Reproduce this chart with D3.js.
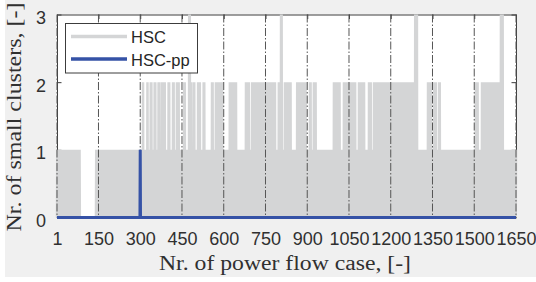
<!DOCTYPE html>
<html>
<head>
<meta charset="utf-8">
<script src="https://cdn.jsdelivr.net/npm/d3@7"></script>
<style>
  html, body { margin: 0; padding: 0; background: #ffffff; }
  svg { display: block; }
</style>
</head>
<body>
<div id="chart"></div>
<script>
// Data.
// HSC: one digit per power flow case, one string per 150 cases
// (cases 1-150, 151-300, ...), written in groups of ten.

const hscSegments = [
  '0101010101 0101010101 0000000101 0101010101 0101010101 0101010101 0101010101 0101010101 0100000000 0000000000 0000000000 0000000000 0000000000 0000000000 0101010101',
  '0101010101 0101010101 0101010101 0101010101 0101010101 0101010101 0101010101 0101010101 0101010101 0101010101 0101010101 0101010101 0101010101 0101010101 0101010101',
  '0101010102 0101010101 0101020101 0101010202 0101010101 0202010101 0101020201 0101010202 0202020201 0101010101 0202010101 0101010202 0101010101 0202020201 0101010101',
  '0101010202 0101010101 0101030302 0201010101 0202010101 0101010202 0202010101 0101010202 0101010101 0101010101 0101010202 0101010101 0202020202 0202020202 0202010101',
  '0101010101 0101010101 0202020202 0202020202 0202010101 0101010101 0101010101 0101010102 0202020202 0101010101 0202020202 0202020202 0202020202 0202020202 0202020202',
  '0202020202 0202020202 0202020202 0202010101 0101010202 0202030301 0101010102 0202020202 0202020202 0101010101 0101010101 0102020202 0202020202 0202020202 0202010101',
  '0101010102 0201010101 0102020202 0101010101 0101010101 0101010101 0101010101 0101010101 0101010101 0101020202 0202020202 0202020101 0101010101 0202020202 0202020202',
  '0202020202 0202020202 0201010101 0101020202 0202020202 0202010101 0101010101 0202020201 0101010102 0202020202 0202020202 0202020202 0202020202 0202020202 0202020202',
  '0202020202 0202020202 0202020202 0202020202 0202020202 0202020202 0202020202 0202020202 0202020303 0303010101 0101010101 0101010101 0101010101 0102020202 0202010101',
  '0101020202 0201010101 0102020101 0101010101 0101010101 0101010101 0101010101 0101010101 0101010101 0101010101 0101010101 0101010101 0101010101 0101010101 0101010101',
  '0101020202 0201010101 0101010202 0202020202 0202020202 0202020202 0202020202 0202020202 0202020202 0202030303 0301010101 0101010101 0101010101 0101010101 0101010101'
];

// HSC-pp: zero everywhere except one case
const hscPpPoints = [[1, 0], [299, 0], [300, 1], [301, 0], [1650, 0]];

const xTicks = [1, 150, 300, 450, 600, 750, 900, 1050, 1200, 1350, 1500, 1650];
const yTicks = [0, 1, 2, 3];
const seriesNames = ['HSC', 'HSC-pp'];
const xTitle = 'Nr. of power flow case, [-]';
const yTitle = 'Nr. of small clusters, [-]';

const hsc = hscSegments
  .join('')
  .replace(/ /g, '')
  .split('')
  .map((d, i) => [i + 1, +d]);

const width = 536;
const height = 282;
const plot = { left: 57, right: 516, top: 14.5, bottom: 217.5 };

const grayColor = '#d4d5d6';
const blueColor = '#3552a6';
const axisColor = '#3c3c3c';
const sansFont = '"Liberation Sans", Arial, sans-serif';
const serifFont = '"Liberation Serif", "Times New Roman", serif';

const svg = d3.select('#chart').append('svg')
  .attr('width', width)
  .attr('height', height);

// figure background (white strip on the left and bottom edges)
svg.append('rect')
  .attr('x', 5).attr('y', 0)
  .attr('width', width - 5).attr('height', 277)
  .attr('fill', '#f0f0f0');

svg.append('rect')
  .attr('x', plot.left).attr('y', plot.top)
  .attr('width', plot.right - plot.left).attr('height', plot.bottom - plot.top)
  .attr('fill', '#ffffff');

const xScale = d3.scaleLinear().domain([1, 1650]).range([plot.left, plot.right]);
const yScale = d3.scaleLinear().domain([0, 3]).range([plot.bottom, plot.top]);

// axes (ticks point inwards, box on)
const fmt = d3.format('d');
const xAxis = d3.axisBottom(xScale).tickValues(xTicks).tickFormat(fmt)
  .tickSizeInner(-4.5).tickSizeOuter(0).tickPadding(15);
const yAxis = d3.axisLeft(yScale).tickValues(yTicks).tickFormat(fmt)
  .tickSizeInner(-4.5).tickSizeOuter(0).tickPadding(11);
const xAxisTop = d3.axisTop(xScale).tickValues(xTicks).tickSizeInner(-4.5).tickSizeOuter(0).tickFormat('');
const yAxisRight = d3.axisRight(yScale).tickValues(yTicks).tickSizeInner(-4.5).tickSizeOuter(0).tickFormat('');

const axes = [
  svg.append('g').attr('transform', `translate(0, ${plot.bottom})`).call(xAxis),
  svg.append('g').attr('transform', `translate(${plot.left}, 0)`).call(yAxis),
  svg.append('g').attr('transform', `translate(0, ${plot.top})`).call(xAxisTop),
  svg.append('g').attr('transform', `translate(${plot.right}, 0)`).call(yAxisRight)
];

axes.forEach(g => {
  g.selectAll('path, line').attr('stroke', axisColor).attr('stroke-width', 1);
  g.selectAll('text')
    .attr('fill', '#303030')
    .attr('font-family', sansFont)
    .attr('font-size', 18);
});
axes[1].selectAll('text').attr('dy', '0.5em');

// HSC series
const line = d3.line()
  .x(d => xScale(d[0]))
  .y(d => yScale(d[1]));

svg.append('path')
  .datum(hsc)
  .attr('d', line)
  .attr('fill', 'none')
  .attr('stroke', grayColor)
  .attr('stroke-width', 2.5)
  .attr('stroke-linejoin', 'miter');

// dash-dot vertical grid
svg.append('g')
  .selectAll('line')
  .data(xTicks)
  .enter()
  .append('line')
  .attr('x1', d => xScale(d)).attr('x2', d => xScale(d))
  .attr('y1', yScale(3)).attr('y2', yScale(0))
  .attr('stroke', '#555555')
  .attr('stroke-width', 1)
  .attr('stroke-dasharray', '8,2,1.5,2');

// HSC-pp series
svg.append('path')
  .datum(hscPpPoints)
  .attr('d', line)
  .attr('fill', 'none')
  .attr('stroke', blueColor)
  .attr('stroke-width', 3);

// axis titles
svg.append('text')
  .attr('x', 285).attr('y', 270)
  .attr('text-anchor', 'middle')
  .attr('font-family', serifFont)
  .attr('font-size', 20)
  .attr('fill', '#303030')
  .attr('textLength', 252)
  .attr('lengthAdjust', 'spacingAndGlyphs')
  .text(xTitle);

svg.append('text')
  .attr('transform', 'translate(21, 117) rotate(-90)')
  .attr('text-anchor', 'middle')
  .attr('font-family', serifFont)
  .attr('font-size', 20)
  .attr('fill', '#303030')
  .attr('textLength', 229)
  .attr('lengthAdjust', 'spacingAndGlyphs')
  .text(yTitle);

// legend
const legend = svg.append('g');
legend.append('rect')
  .attr('x', 65.5).attr('y', 23.5)
  .attr('width', 132).attr('height', 49.5)
  .attr('fill', '#ffffff')
  .attr('stroke', axisColor)
  .attr('stroke-width', 1);

const legendRows = legend.selectAll('g.row')
  .data(seriesNames)
  .enter()
  .append('g')
  .attr('class', 'row')
  .attr('transform', (d, i) => `translate(0, ${36.5 + i * 22.5})`);

legendRows.append('line')
  .attr('x1', 71).attr('x2', 127)
  .attr('stroke', (d, i) => (i === 0 ? grayColor : blueColor))
  .attr('stroke-width', 3.5);

legendRows.append('text')
  .attr('x', 131).attr('y', 6.5)
  .attr('font-family', sansFont)
  .attr('font-size', 16.5)
  .attr('fill', '#262626')
  .text(d => d);
</script>
</body>
</html>
